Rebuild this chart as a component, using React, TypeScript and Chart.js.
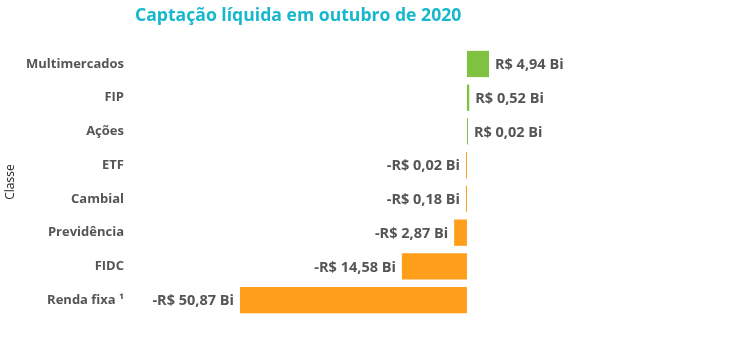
import React, { useEffect, useRef } from "react";
import { Chart, registerables } from "chart.js";

Chart.register(...registerables);

const categories = ["Multimercados", "FIP", "Ações", "ETF", "Cambial", "Previdência", "FIDC", "Renda fixa ¹"];
const values = [4.94, 0.52, 0.02, -0.02, -0.18, -2.87, -14.58, -50.87];
const titleText = "Captação líquida em outubro de 2020";
const axisTitle = "Classe";

const POS = "#7FC241";
const NEG = "#FF9E1B";
const FONT = "'Segoe UI', 'Open Sans', sans-serif";

const fmt = (v: number) => {
  const s = Math.abs(v).toFixed(2).replace(".", ",");
  return (v < 0 ? "-" : "") + "R$ " + s + " Bi";
};

const labelPlugin = {
  id: "valueLabels",
  afterDatasetsDraw(chart: any) {
    const ctx = chart.ctx;
    const meta = chart.getDatasetMeta(0);
    ctx.save();
    ctx.font = `bold 14.5px ${FONT}`;
    ctx.fillStyle = "#555555";
    ctx.textBaseline = "middle";
    meta.data.forEach((bar: any, i: number) => {
      const v = values[i];
      const base = bar.base;
      const end = bar.x;
      if (v >= 0) {
        ctx.textAlign = "left";
        ctx.fillText(fmt(v), Math.max(end, base) + 6, bar.y + 1);
      } else {
        ctx.textAlign = "right";
        ctx.fillText(fmt(v), Math.min(end, base) - 6, bar.y + 1);
      }
    });
    ctx.restore();
  },
};

export default function App() {
  const ref = useRef<HTMLCanvasElement>(null);
  useEffect(() => {
    if (!ref.current) return;
    const chart = new Chart(ref.current, {
      type: "bar",
      data: {
        labels: categories,
        datasets: [
          {
            data: values,
            backgroundColor: values.map((v) => (v >= 0 ? POS : NEG)),
            categoryPercentage: 0.78,
            barPercentage: 1,
            minBarLength: 1,
          },
        ],
      },
      options: {
        indexAxis: "y",
        animation: false,
        responsive: false,
        maintainAspectRatio: false,
        layout: { padding: { left: 0, right: 10, top: 0, bottom: 38 } },
        plugins: {
          legend: { display: false },
          tooltip: { enabled: false },
          title: {
            display: true,
            text: titleText,
            align: "start",
            fullSize: false,
            color: "#17B8CE",
            font: { family: FONT, size: 17.6, weight: "bold" },
            padding: { top: 5, bottom: 21 },
          },
        },
        scales: {
          x: {
            display: false,
            min: -74.4,
            max: 61.2,
            grid: { display: false },
          },
          y: {
            grid: { display: false, drawTicks: false },
            border: { display: false },
            ticks: {
              color: "#555555",
              font: { family: FONT, size: 13, weight: "bold" },
              padding: 11,
            },
            title: {
              display: true,
              text: axisTitle,
              color: "#252423",
              font: { family: FONT, size: 12 },
              padding: { top: 3, bottom: 0 },
            },
            afterFit(scale: any) {
              scale.width = 135;
            },
          },
        },
      },
      plugins: [labelPlugin],
    } as any);
    return () => chart.destroy();
  }, []);
  return (
    <div style={{ position: "fixed", left: 0, top: 0, width: 750, height: 355, background: "#fff" }}>
      <canvas ref={ref} width={750} height={355} style={{ width: 750, height: 355 }} />
    </div>
  );
}
